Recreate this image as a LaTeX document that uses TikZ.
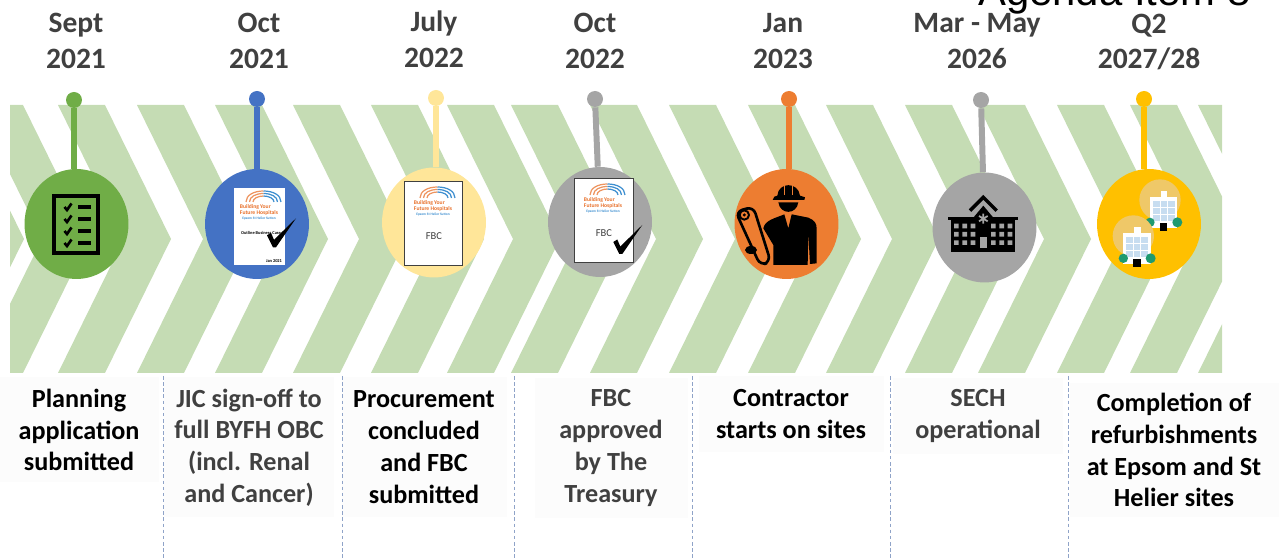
\documentclass[tikz,border=0pt]{standalone}
\usepackage{fontspec}
\setmainfont{Carlito}
\newfontfamily\agendafont{Liberation Sans}
\usepackage{tikz}
\usetikzlibrary{shapes.geometric}
\definecolor{bandgreen}{HTML}{C5DCB4}
\definecolor{leafgreen}{HTML}{70AD47}
\definecolor{royalblue}{HTML}{4472C4}
\definecolor{paleyellow}{HTML}{FFE699}
\definecolor{midgray}{HTML}{A5A5A5}
\definecolor{burntorange}{HTML}{ED7D31}
\definecolor{goldyellow}{HTML}{FFC000}
\definecolor{darktext}{HTML}{404040}
\definecolor{tilewhite}{HTML}{FCFCFC}
\definecolor{rulecolor}{HTML}{8FA3C8}
\definecolor{logoorange}{HTML}{E8702A}
\definecolor{logoblue}{HTML}{3E8FD0}
\definecolor{halo}{HTML}{EFC868}
\definecolor{paneblue}{HTML}{C7DDF0}
\definecolor{bushgreen}{HTML}{1F9A70}
\tikzset{
  disc/.style={
    ellipse,
    fill=#1,
    minimum width=2.08cm,
    minimum height=2.2cm,
    inner sep=0pt,
  },
  pin head/.style={
    circle,
    fill=#1,
    minimum size=0.32cm,
    inner sep=0pt,
  },
  stem/.style={
    draw=#1,
    line width=3.4pt,
  },
  date label/.style={
    align=center,
    text=darktext,
    font=\bfseries\fontsize{16.8}{20.4}\selectfont,
  },
  note box/.style n args={2}{
    fill=tilewhite,
    align=center,
    inner sep=0pt,
    minimum width={#1*0.02cm},
    minimum height={#2*0.02cm},
    font=\bfseries\fontsize{14.9}{18.1}\selectfont,
  },
  divider/.style={
    draw=rulecolor,
    line width=0.4pt,
    dash pattern=on 2pt off 1.5pt,
  },
  sheet/.style n args={2}{
    fill=white,
    inner sep=0pt,
    minimum width={#1*0.02cm},
    minimum height={#2*0.02cm},
  },
  sheet text/.style={
    inner sep=0pt,
    font=\bfseries\fontsize{2.5}{3}\selectfont,
  },
  sheet mark/.style={
    inner sep=0pt,
    text=darktext,
    font=\fontsize{6}{7}\selectfont,
  },
  band/.pic={
    \fill [bandgreen] (0,0) -- (47,0) -- (113,134) -- (47,268) -- (0,268) -- (66,134) -- cycle;
  },
  tick/.pic={
    \fill [black] (0,0) -- (-6,-12) -- (-2,-14.5) -- (1,-7.5) -- (23,-29) -- (3,0) -- cycle;
  },
  logo/.pic={
    \draw [logoorange!75!white, line width=0.7pt]
      (-13,-5) .. controls (-13,-12) and (-5,-16) .. (4.5,-16)
      (-9.5,-5) .. controls (-9.5,-10.5) and (-3,-13.5) .. (4.5,-13.5)
      (-6,-5) .. controls (-6,-8.5) and (-1,-11) .. (4.5,-11);
    \draw [logoblue, line width=0.7pt]
      (4.5,-16) .. controls (14,-16) and (22,-12) .. (22,-5)
      (4.5,-13.5) .. controls (12,-13.5) and (18.5,-10.5) .. (18.5,-5)
      (4.5,-11) .. controls (10,-11) and (15,-8.5) .. (15,-5);
    \node [inner sep=0pt, align=left, text=logoorange, font=\bfseries\fontsize{3.2}{3.9}\selectfont] (title) at (0,3) {Building Your\\Future Hospitals};
    \node [inner sep=0pt, text=logoblue, font=\bfseries\fontsize{2}{2.4}\selectfont] (place) at (0,12) {Epsom St Helier Sutton};
  },
  list row/.pic={
    \draw [line width=1.5pt] (-2.5,0) -- (0,3) -- (4.5,-3.5);
    \draw [line width=1.8pt] (11,0) -- (24,0);
  },
  pane block/.pic={
    \fill [midgray] (0,0) rectangle (14,14) (25,0) rectangle (39,14) (50,0) rectangle (64,14);
    \fill [midgray] (0,25) rectangle (14,39) (25,25) rectangle (39,39) (50,25) rectangle (64,39);
    \fill [midgray] (0,50) rectangle (14,64) (25,50) rectangle (39,64) (50,50) rectangle (64,64);
  },
  ward/.pic={
    \fill [halo] (210,105) circle [radius=62];
    \fill [white] (212,78) rectangle (232,100);
    \fill [white] (180,97) rectangle (262,190);
    \fill [paneblue] (188,108) rectangle (254,168);
    \draw [white, line width=0.5pt] (210,108) -- (210,168) (232,108) -- (232,168) (188,128) -- (254,128) (188,148) -- (254,148);
    \fill [black] (210,173) rectangle (232,197);
    \fill [bushgreen] (180,172) circle [radius=14];
    \fill [bushgreen] (262,172) circle [radius=15];
  },
}

\begin{document}
\begin{tikzpicture}[x=0.02cm, y=-0.02cm]
  \useasboundingbox (0,0) rectangle (1279,560);

  % chevrons
  \begin{scope}
    \clip (10,105) rectangle (1222,373);
    \pic at (-89,105) {band};
    \pic at (-24,105) {band};
    \pic at (58,105) {band};
    \pic at (137,105) {band};
    \pic at (215,105) {band};
    \pic at (293,105) {band};
    \pic at (371,105) {band};
    \pic at (447,105) {band};
    \pic at (511,105) {band};
    \pic at (590,105) {band};
    \pic at (669,105) {band};
    \pic at (748,105) {band};
    \pic at (826,105) {band};
    \pic at (905,105) {band};
    \pic at (978,105) {band};
    \pic at (1057,105) {band};
    \pic at (1130,105) {band};
    \pic at (1198,105) {band};
  \end{scope}

  \node [anchor=base west, inner sep=0pt, font=\agendafont\fontsize{23.8}{28}\selectfont] (agenda) at (978,6) {Agenda Item 8};

  \node [date label] (date1) at (76,41) {Sept\\2021};
  \node [date label] (date2) at (259,41) {Oct\\2021};
  \node [date label] (date3) at (434,39.5) {July\\2022};
  \node [date label] (date4) at (595,41) {Oct\\2022};
  \node [date label] (date5) at (783,41) {Jan\\2023};
  \node [date label] (date6) at (977,41) {Mar - May\\2026};
  \node [date label] (date7) at (1149,42) {Q2\\2027/28};

  \node [pin head=leafgreen] (pin1) at (74,100) {};
  \node [pin head=royalblue] (pin2) at (257,99) {};
  \node [pin head=paleyellow] (pin3) at (436,98) {};
  \node [pin head=midgray] (pin4) at (595,99) {};
  \node [pin head=burntorange] (pin5) at (789,99) {};
  \node [pin head=midgray] (pin6) at (981,100) {};
  \node [pin head=goldyellow] (pin7) at (1144,99) {};

  \node [disc=leafgreen] (disc1) at (76.5,224) {};
  \node [disc=royalblue] (disc2) at (257,224) {};
  \node [disc=paleyellow] (disc3) at (434,222.5) {};
  \node [disc=midgray] (disc4) at (600,222) {};
  \node [disc=burntorange] (disc5) at (786.5,224) {};
  \node [disc=midgray] (disc6) at (984.5,227.5) {};
  \node [disc=goldyellow] (disc7) at (1149,224) {};

  \draw [stem=leafgreen] (pin1) -- (pin1 |- disc1.north);
  \draw [stem=royalblue] (pin2) -- (disc2);
  \draw [stem=paleyellow] (pin3) -- (pin3 |- disc3.north);
  \draw [stem=midgray] (pin4) -- (disc4);
  \draw [stem=burntorange] (pin5) -- (pin5 |- disc5.north);
  \draw [stem=midgray] (pin6) -- (disc6);
  \draw [stem=goldyellow] (pin7) -- (pin7 |- disc7.north);

  % checklist
  \draw [line width=2.6pt] (54,196) rectangle (98,253);
  \pic at (67,207) {list row};
  \pic at (67,219) {list row};
  \pic at (67,231) {list row};
  \pic at (67,243) {list row};

  % documents
  \node [sheet={51}{77}] (doc2) at (259,226.5) {};
  \pic (logoa) at (259,207) {logo};
  \node [sheet text] (doc2title) at (261,232.7) {Outline Business Case};
  \node [sheet text] (doc2date) at (274,260.7) {Jan 2021};
  \pic at (273,247.3) {tick};

  \node [sheet={58}{84}, draw=darktext, line width=0.4pt] (doc3) at (433,223.5) {};
  \pic (logob) at (433,203) {logo};
  \node [sheet mark] (doc3title) at (434,236) {FBC};

  \node [sheet={59}{84}, draw=darktext, line width=0.4pt] (doc4) at (603.5,220) {};
  \pic (logoc) at (603,200) {logo};
  \node [sheet mark] (doc4title) at (604,233) {FBC};
  \pic at (619.3,254) {tick};

  % worker
  \begin{scope}[shift={(725,165)}, x=0.00667cm, y=-0.00667cm]
    \fill (143,105) -- (148,95) -- (157,92) .. controls (160,50) and (220,50) .. (225,92) -- (240,97) -- (238,105) -- cycle;
    \draw [burntorange, line width=0.5pt] (178,58) -- (178,90) (202,58) -- (202,90);
    \fill (160,112) .. controls (165,150) and (215,150) .. (220,112) -- cycle;
    \fill (115,190) .. controls (120,165) and (150,160) .. (178,148) -- (190,190) -- (200,148) -- (250,158) .. controls (268,165) and (275,175) .. (275,190) -- (275,295) -- (255,297) -- (250,205) -- (248,300) -- (145,300) -- (145,240) -- cycle;
    \draw [black, line width=1.5pt, fill=burntorange, rounded corners=4pt] (32,140) -- (85,125) -- (137,290) -- (106,302) -- cycle;
    \draw [line width=1.1pt] (58,150) circle [radius=14];
    \fill (58,150) circle [radius=5];
    \fill (78,255) ellipse [x radius=18, y radius=12];
  \end{scope}

  % hospital
  \begin{scope}[shift={(925,165)}, x=0.00667cm, y=-0.00667cm]
    \draw [line width=2pt] (135,137) -- (175,97) -- (215,137);
    \fill (145,158) -- (175,122) -- (205,158) -- cycle;
    \fill (70,155) rectangle (278,165);
    \fill (78,165) rectangle (270,262);
    \pic at (87,176) {pane block};
    \pic at (198,176) {pane block};
    \fill [midgray] (165,215) rectangle (187,250);
    \draw [midgray, line width=1pt] (175,146) -- (175,176) (162,153) -- (188,169) (162,169) -- (188,153);
  \end{scope}

  % buildings
  \begin{scope}[shift={(1090,165)}, x=0.00667cm, y=-0.00667cm]
    \pic at (0,0) {ward};
    \pic at (-80,108) {ward};
  \end{scope}

  % notes
  \node [note box={160}{105}] (note1) at (79,430) {Planning\\application\\submitted};
  \node [note box={170}{140}, text=darktext] (note2) at (249,447.5) {JIC sign-off to\\full BYFH OBC\\(incl. Renal\\and Cancer)};
  \node [note box={165}{140}] (note3) at (424,447) {Procurement\\concluded\\and FBC\\submitted};
  \node [note box={153}{140}, text=darktext] (note4) at (611,448) {FBC\\approved\\by The\\Treasury};
  \node [note box={185}{76}] (note5) at (791,414) {Contractor\\starts on sites};
  \node [note box={170}{76}, text=darktext] (note6) at (978,416) {SECH\\operational};
  \node [note box={209}{134}] (note7) at (1174,450) {Completion of\\refurbishments\\at Epsom and St\\Helier sites};

  \coordinate (rule1) at (163,376);
  \coordinate (rule2) at (342,376);
  \coordinate (rule3) at (514,376);
  \coordinate (rule4) at (692,376);
  \coordinate (rule5) at (890,376);
  \coordinate (rule6) at (1068,376);
  \draw [divider] (rule1) -- ++(0,182);
  \draw [divider] (rule2) -- ++(0,182);
  \draw [divider] (rule3) -- ++(0,182);
  \draw [divider] (rule4) -- ++(0,182);
  \draw [divider] (rule5) -- ++(0,182);
  \draw [divider] (rule6) -- ++(0,182);
\end{tikzpicture}
\end{document}
